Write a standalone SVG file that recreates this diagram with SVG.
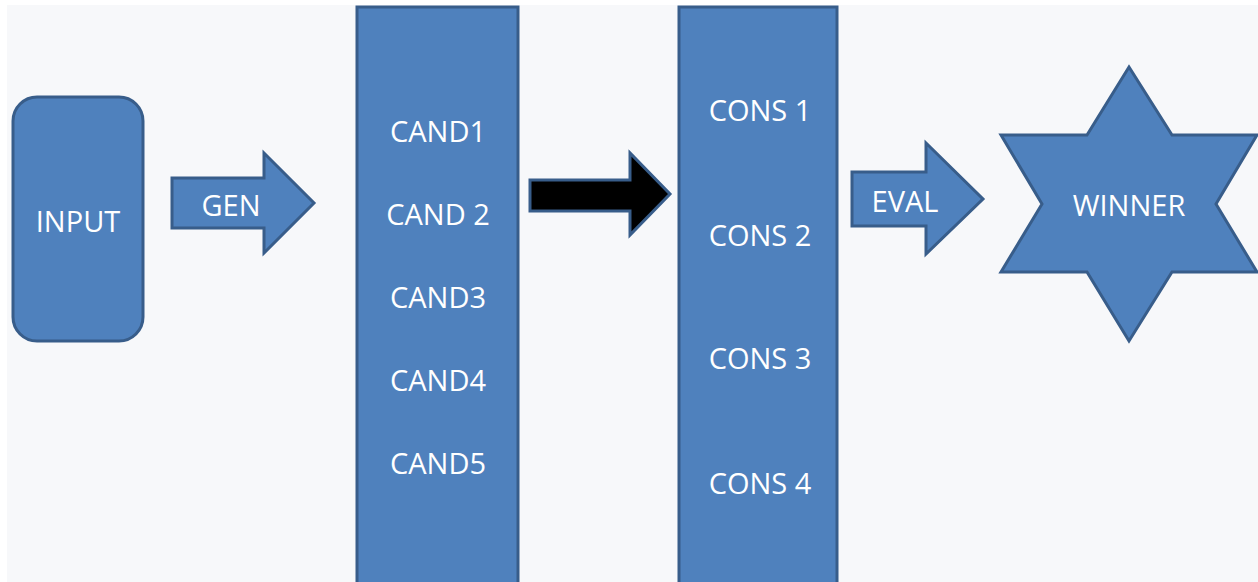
<svg xmlns="http://www.w3.org/2000/svg" width="1258" height="582" viewBox="0 0 1258 582">
<style>
.shape{fill:#4f81bd;stroke:#385d8a;stroke-width:3;stroke-linejoin:miter}
.blk{fill:#000000;stroke:#385d8a;stroke-width:3}
.lbl{font-family:"Open Sans","Liberation Sans",sans-serif;font-size:29px;fill:#ffffff;text-anchor:middle}
</style>
<rect x="0" y="0" width="1258" height="582" fill="#ffffff"/>
<rect x="7" y="5" width="1251" height="577" fill="#f7f8fa"/>
<g id="input">
<rect class="shape" x="13" y="97" width="130" height="244" rx="24" ry="24"/>
<text class="lbl" x="78" y="232">INPUT</text>
</g>
<g id="cand">
<rect class="shape" x="357" y="7" width="161" height="578"/>
<text class="lbl" x="438" y="142">CAND1</text>
<text class="lbl" x="438" y="225">CAND 2</text>
<text class="lbl" x="438" y="308">CAND3</text>
<text class="lbl" x="438" y="391">CAND4</text>
<text class="lbl" x="438" y="474">CAND5</text>
</g>
<g id="cons">
<rect class="shape" x="679" y="7" width="158" height="578"/>
<text class="lbl" x="760" y="121">CONS 1</text>
<text class="lbl" x="760" y="246">CONS 2</text>
<text class="lbl" x="760" y="369">CONS 3</text>
<text class="lbl" x="760" y="494">CONS 4</text>
</g>
<g id="winner">
<polygon class="shape" points="1129,67 1172,135 1257,135 1216,204 1257,272 1172,272 1129,341 1087,272 1001,272 1042,204 1001,135 1087,135"/>
<text class="lbl" x="1129" y="216">WINNER</text>
</g>
<g id="connectors">
<g id="gen">
<polygon class="shape" points="172,178 264,178 264,153 314,203 264,253 264,228 172,228"/>
<text class="lbl" x="231" y="216">GEN</text>
</g>
<g id="pass">
<polygon class="blk" points="530,180 630,180 630,153 670,194 630,235 630,211 530,211"/>
</g>
<g id="eval">
<polygon class="shape" points="852,172 926,172 926,143 983,199 926,254 926,226 852,226"/>
<text class="lbl" x="905" y="212">EVAL</text>
</g>
</g>
</svg>
